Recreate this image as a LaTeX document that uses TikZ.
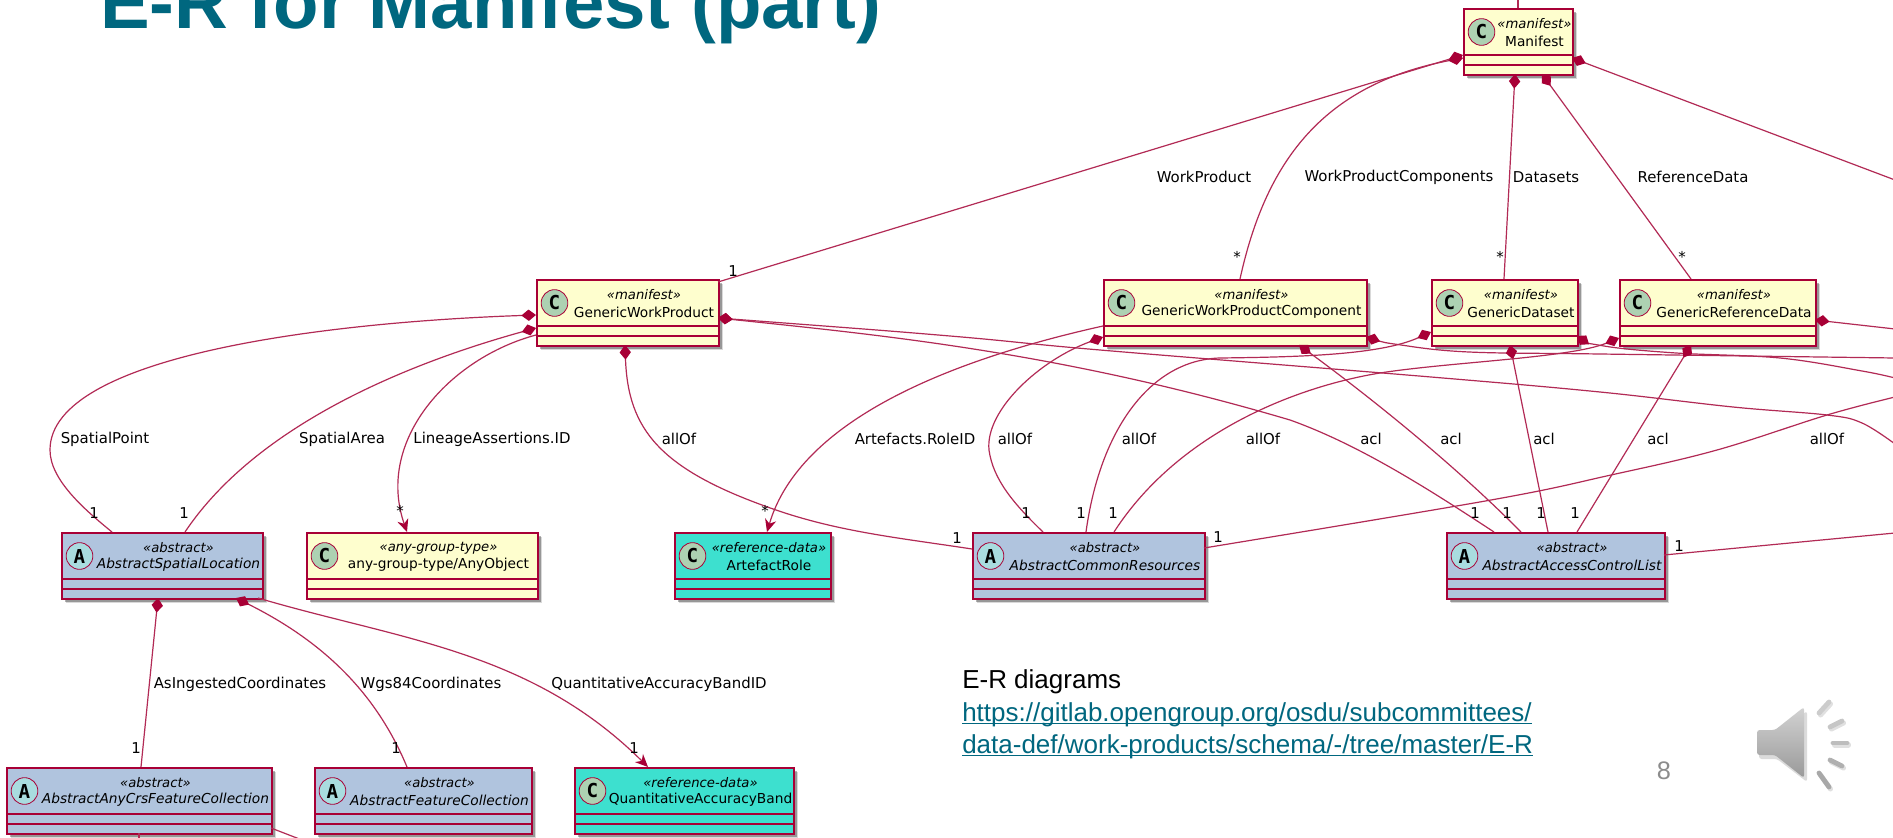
\documentclass[tikz,border=0pt]{standalone}
\usepackage{fontspec}
\setmainfont{Liberation Sans}
\newfontfamily\umlf{DejaVu Sans}
\newfontfamily\umlm{DejaVu Sans Mono}
\usetikzlibrary{arrows.meta,shadows}
\definecolor{crim}{HTML}{A80036}
\definecolor{crimsoft}{HTML}{B22A55}
\definecolor{ymanifest}{HTML}{FEFECE}
\definecolor{babstract}{HTML}{B0C4DE}
\definecolor{tref}{HTML}{3DE0CF}
\definecolor{spotc}{HTML}{ADD1B2}
\definecolor{spota}{HTML}{A9DCDF}
\definecolor{teal}{HTML}{00677F}
\tikzset{
  umlbox/.style={draw=crim,line width=1.3pt,rectangle,anchor=north west,inner sep=0pt,minimum height=49.5pt,
    drop shadow={shadow xshift=3.4pt,shadow yshift=-3.4pt,fill=black,opacity=.15},
    drop shadow={shadow xshift=2.2pt,shadow yshift=-2.2pt,fill=black,opacity=.3}},
  spot/.style={circle,draw=crim,line width=.6pt,minimum size=20pt,inner sep=0pt,text=black,
    font=\umlm\bfseries\fontsize{14.4pt}{15pt}\selectfont},
  stereo/.style={inner sep=0pt,text=black,font=\umlf\itshape\fontsize{9.9pt}{11pt}\selectfont},
  titlec/.style={inner sep=0pt,text=black,font=\umlf\fontsize{10.3pt}{12pt}\selectfont},
  titlea/.style={inner sep=0pt,text=black,font=\umlf\itshape\fontsize{10.3pt}{12pt}\selectfont},
  lab/.style={inner sep=0pt,text=black,font=\umlf\fontsize{11.2pt}{13pt}\selectfont},
  rel/.style={draw=crimsoft,line width=.9pt},
  comp/.style={rel,{Diamond[length=11pt,width=8.5pt,color=crim,fill=crim]}-},
  nav/.style={rel,-{Stealth[length=9.5pt,width=8.5pt,inset=3pt,color=crim,fill=crim]}},
  body/.style={inner sep=0pt,anchor=base west,font=\fontsize{19.5pt}{22pt}\selectfont},
}
\newcommand{\umlbox}[9]{% name x y w fill letter spotfill stereotype title
  \node[umlbox,fill=#5,minimum width=#4*.75pt] (#1) at (#2,#3) {};
  \draw[crim,line width=1pt] ([shift={(0,47)}]#1.north west) -- ([shift={(#4,47)}]#1.north west);
  \draw[crim,line width=1pt] ([shift={(0,57)}]#1.north west) -- ([shift={(#4,57)}]#1.north west);
  \node[spot,fill=#7] (#1-spot) at ([shift={(18.5,24)}]#1.north west) {#6};
  \node[stereo] (#1-st) at ([shift={(17+#4/2,16)}]#1.north west) {«#8»};
  \node[#9] (#1-ti) at ([shift={(17+#4/2,33)}]#1.north west) {\csname uml#1\endcsname};
}
\newcommand{\lab}[4]{\node[lab] (#1) at (#2,#3) {#4};}
\newcommand{\linkul}[1]{\setbox0=\hbox{#1}\rlap{\rule[-2.6pt]{\wd0}{.85pt}}\box0 }
\newcommand\umlmf{Manifest}
\newcommand\umlgwp{GenericWorkProduct}
\newcommand\umlgwpc{GenericWorkProductComponent}
\newcommand\umlgd{GenericDataset}
\newcommand\umlgrd{GenericReferenceData}
\newcommand\umlasl{AbstractSpatialLocation}
\newcommand\umlago{any-group-type/AnyObject}
\newcommand\umlar{ArtefactRole}
\newcommand\umlacr{AbstractCommonResources}
\newcommand\umlaacl{AbstractAccessControlList}
\newcommand\umlcrs{AbstractAnyCrsFeatureCollection}
\newcommand\umlafc{AbstractFeatureCollection}
\newcommand\umlqab{QuantitativeAccuracyBand}
\begin{document}
\begin{tikzpicture}[x=.75pt,y=-.75pt]
\path[use as bounding box,clip] (0,0) rectangle (1893,838);
\fill[white] (0,0) rectangle (1893,838);

\node[inner sep=0pt,anchor=base west,text=teal,font=\bfseries\fontsize{55.8pt}{60pt}\selectfont] (title) at (100,29) {E-R for Manifest (part)};

% free ends
\coordinate (o1) at (1518,-2);
\coordinate (o2) at (1895,180);
\coordinate (o3) at (1895,444);
\coordinate (o4) at (1895,358);
\coordinate (o5) at (1895,378);
\coordinate (o6) at (1895,329);
\coordinate (o7) at (1895,397);
\coordinate (o8) at (1895,533);
\coordinate (o9) at (139,840);
\coordinate (o10) at (302,840);

\umlbox{mf}{1463}{8}{109}{ymanifest}{C}{spotc}{manifest}{titlec}
\umlbox{gwp}{536}{279}{182}{ymanifest}{C}{spotc}{manifest}{titlec}
\umlbox{gwpc}{1103}{279}{263}{ymanifest}{C}{spotc}{manifest}{titlec}
\umlbox{gd}{1431}{279}{146}{ymanifest}{C}{spotc}{manifest}{titlec}
\umlbox{grd}{1619}{279}{196}{ymanifest}{C}{spotc}{manifest}{titlec}
\umlbox{asl}{61}{532}{201}{babstract}{A}{spota}{abstract}{titlea}
\umlbox{ago}{306}{532}{231}{ymanifest}{C}{spotc}{any-group-type}{titlec}
\umlbox{ar}{674}{532}{156}{tref}{C}{spotc}{reference-data}{titlec}
\umlbox{acr}{972}{532}{232}{babstract}{A}{spota}{abstract}{titlea}
\umlbox{aacl}{1446}{532}{218}{babstract}{A}{spota}{abstract}{titlea}
\umlbox{crs}{6}{767}{265}{babstract}{A}{spota}{abstract}{titlea}
\umlbox{afc}{314}{767}{217}{babstract}{A}{spota}{abstract}{titlea}
\umlbox{qab}{574}{767}{219}{tref}{C}{spotc}{reference-data}{titlec}

% Manifest
\draw[comp] ([shift={(0,47)}]mf.north west) -- ([shift={(182,3)}]gwp.north west);
\draw[comp] ([shift={(0,50)}]mf.north west) .. controls (1320,85) and (1265,165) .. ([shift={(137,0)}]gwpc.north west);
\draw[comp] ([shift={(52,66)}]mf.north west) -- ([shift={(73,0)}]gd.north west);
\draw[comp] ([shift={(79,66)}]mf.north west) -- ([shift={(72,0)}]grd.north west);
\draw[comp] ([shift={(109,50)}]mf.north west) -- (o2);
\draw[rel] ([shift={(55,0)}]mf.north west) -- (o1);

% GenericWorkProduct
\draw[comp] ([shift={(0,36)}]gwp.north west) .. controls (330,322) and (50,355) .. (50,450) .. controls (50,480) and (85,510) .. ([shift={(51,0)}]asl.north west);
\draw[comp] ([shift={(0,49)}]gwp.north west) .. controls (420,360) and (260,420) .. ([shift={(124,0)}]asl.north west);
\draw[nav] ([shift={(0,56)}]gwp.north west) .. controls (450,358) and (375,440) .. ([shift={(101,0)}]ago.north west);
\draw[comp] ([shift={(89,66)}]gwp.north west) .. controls (628,430) and (660,470) .. (776,510) .. controls (840,532) and (900,538) .. ([shift={(0,17)}]acr.north west);
\draw[comp] ([shift={(182,39)}]gwp.north west) .. controls (880,335) and (1060,352) .. (1290,420) .. controls (1360,445) and (1430,490) .. ([shift={(48,0)}]aacl.north west);
\draw[comp] plot[smooth,tension=.6] coordinates {([shift={(182,39)}]gwp.north west) (950,336) (1100,350) (1431,377) (1600,392) (1733,407) (1827,415) (1862,423) (o3)};

% GenericWorkProductComponent
\draw[nav] ([shift={(0,47)}]gwpc.north west) .. controls (950,360) and (800,420) .. ([shift={(93,0)}]ar.north west);
\draw[comp] ([shift={(0,58)}]gwpc.north west) .. controls (1040,360) and (985,410) .. (989,450) .. controls (993,480) and (1015,505) .. ([shift={(71,0)}]acr.north west);
\draw[comp] ([shift={(196,66)}]gwpc.north west) .. controls (1340,375) and (1440,450) .. ([shift={(75,0)}]aacl.north west);
\draw[comp] plot[smooth,tension=.6] coordinates {([shift={(263,58)}]gwpc.north west) (1401,345) (1469,352) (1600,354) (o4)};

% GenericDataset
\draw[comp] ([shift={(0,53)}]gd.north west) .. controls (1380,355) and (1300,357) .. (1220,358) .. controls (1150,360) and (1100,430) .. ([shift={(114,0)}]acr.north west);
\draw[comp] ([shift={(79,66)}]gd.north west) -- ([shift={(102,0)}]aacl.north west);
\draw[comp] plot[smooth,tension=.6] coordinates {([shift={(146,57)}]gd.north west) (1604,346) (1676,353) (1780,358) (1862,371) (o5)};

% GenericReferenceData
\draw[comp] ([shift={(0,59)}]grd.north west) .. controls (1570,358) and (1450,362) .. (1380,373) .. controls (1300,386) and (1180,430) .. ([shift={(142,0)}]acr.north west);
\draw[comp] ([shift={(72,66)}]grd.north west) -- ([shift={(131,0)}]aacl.north west);
\draw[comp] ([shift={(196,41)}]grd.north west) -- (o6);

% right-hand ends
\draw[rel] plot[smooth,tension=.6] coordinates {([shift={(232,16)}]acr.north west) (1491,500) (1611,475) (1717,450) (1827,415) (o7)};
\draw[rel] ([shift={(218,23)}]aacl.north west) -- (o8);

% AbstractSpatialLocation
\draw[comp] ([shift={(97,66)}]asl.north west) -- ([shift={(135,0)}]crs.north west);
\draw[comp] ([shift={(175,66)}]asl.north west) .. controls (320,640) and (375,690) .. ([shift={(93,0)}]afc.north west);
\draw[nav] ([shift={(197,66)}]asl.north west) .. controls (400,640) and (530,650) .. ([shift={(74,0)}]qab.north west);
\draw[rel] ([shift={(133,66)}]crs.north west) -- (o9);
\draw[rel] ([shift={(265,61)}]crs.north west) -- (o10);

% connector labels
\lab{l1}{1204}{177}{WorkProduct}
\lab{l2}{1399}{177}{WorkProductComponents}
\lab{l3}{1546}{177}{Datasets}
\lab{l4}{1693}{177}{ReferenceData}
\lab{l5}{105}{439}{SpatialPoint}
\lab{l6}{342}{439}{SpatialArea}
\lab{l7}{492}{439}{LineageAssertions.ID}
\lab{l8}{679}{439}{allOf}
\lab{l9}{915}{439}{Artefacts.RoleID}
\lab{l10}{1015}{439}{allOf}
\lab{l11}{1139}{439}{allOf}
\lab{l12}{1263}{439}{allOf}
\lab{l13}{1371}{439}{acl}
\lab{l14}{1451}{439}{acl}
\lab{l15}{1544}{439}{acl}
\lab{l16}{1658}{439}{acl}
\lab{l17}{1827}{439}{allOf}
\lab{l18}{240}{684}{AsIngestedCoordinates}
\lab{l19}{431}{684}{Wgs84Coordinates}
\lab{l20}{659}{684}{QuantitativeAccuracyBandID}

% multiplicities
\lab{m1}{733}{271}{1}
\lab{m2}{1237}{257}{*}
\lab{m3}{1500}{257}{*}
\lab{m4}{1682}{257}{*}
\lab{m5}{94}{513}{1}
\lab{m6}{184}{513}{1}
\lab{m7}{400}{511}{*}
\lab{m8}{765}{511}{*}
\lab{m9}{957}{538}{1}
\lab{m10}{1026}{513}{1}
\lab{m11}{1081}{513}{1}
\lab{m12}{1113}{513}{1}
\lab{m13}{1218}{537}{1}
\lab{m14}{1475}{513}{1}
\lab{m15}{1507}{513}{1}
\lab{m16}{1541}{513}{1}
\lab{m17}{1575}{513}{1}
\lab{m18}{1679}{546}{1}
\lab{m19}{136}{748}{1}
\lab{m20}{396}{748}{1}
\lab{m21}{634}{748}{1}

% caption
\node[body,text=black] (t1) at (962,688) {E-R diagrams};
\node[body,text=teal] (t2) at (962,721) {\linkul{https://gitlab.opengroup.org/osdu/subcommittees/}};
\node[body,text=teal] (t3) at (962,753) {\linkul{data-def/work-products/schema/-/tree/master/E-R}};
\node[inner sep=0pt,text=gray!90,font=\fontsize{19pt}{22pt}\selectfont] (pg) at (1664,771) {8};

% speaker icon
\fill[black,opacity=.14,rounded corners=2pt] (1759,733) -- (1777,733) -- (1807,711) -- (1807,782) -- (1777,759) -- (1759,759) -- cycle;
\path[top color=gray!35,bottom color=gray!80,rounded corners=2pt] (1757,730) -- (1775,730) -- (1804,707) -- (1804,778) -- (1775,755) -- (1757,755) -- cycle;
\foreach \a/\b/\c/\d/\s in {1819/713/1829/702/40,1830/727/1842/721/45,1833/743/1847/743/52,1830/760/1842/766/62,1819/773/1829/787/68}{
  \draw[black,opacity=.12,line width=3.8pt,line cap=round] (\a+1.5,\b+2) -- (\c+1.5,\d+2);
  \draw[gray!\s,line width=3.6pt,line cap=round] (\a,\b) -- (\c,\d);
}
\end{tikzpicture}
\end{document}
